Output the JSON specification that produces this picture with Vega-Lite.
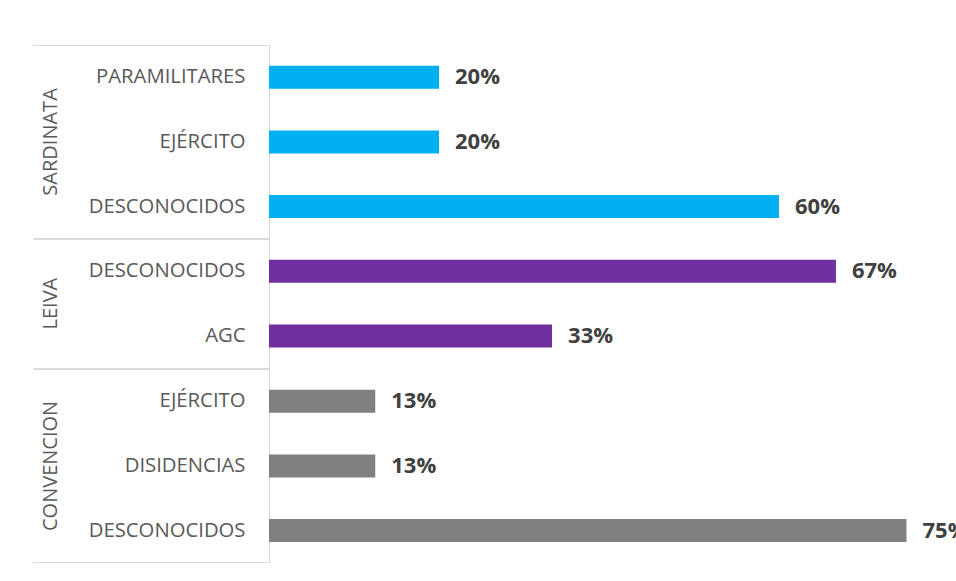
{
  "$schema": "https://vega.github.io/schema/vega-lite/v6.json",
  "background": "white",
  "padding": {"left": 32, "top": 44, "right": 0, "bottom": 20},
  "data": {
    "values": [
      {"muni": "SARDINATA", "actor": "PARAMILITARES", "ord": 1, "pct": 0.2},
      {"muni": "SARDINATA", "actor": "EJÉRCITO", "ord": 2, "pct": 0.2},
      {"muni": "SARDINATA", "actor": "DESCONOCIDOS", "ord": 3, "pct": 0.6},
      {"muni": "LEIVA", "actor": "DESCONOCIDOS", "ord": 4, "pct": 0.667},
      {"muni": "LEIVA", "actor": "AGC", "ord": 5, "pct": 0.333},
      {"muni": "CONVENCION", "actor": "EJÉRCITO", "ord": 6, "pct": 0.125},
      {"muni": "CONVENCION", "actor": "DISIDENCIAS", "ord": 7, "pct": 0.125},
      {"muni": "CONVENCION", "actor": "DESCONOCIDOS", "ord": 8, "pct": 0.75}
    ]
  },
  "facet": {
    "row": {
      "field": "muni",
      "type": "nominal",
      "sort": ["SARDINATA", "LEIVA", "CONVENCION"],
      "title": null,
      "header": {
        "labelAngle": -90,
        "labelFont": "Open Sans",
        "labelFontSize": 20,
        "labelColor": "#595959",
        "labelPadding": 198
      }
    }
  },
  "spacing": 0,
  "bounds": "flush",
  "resolve": {"scale": {"y": "independent"}},
  "spec": {
    "width": 680,
    "height": {"step": 64.625},
    "encoding": {
      "y": {
        "field": "actor",
        "type": "nominal",
        "sort": {"field": "ord", "op": "min"},
        "scale": {"paddingInner": 0, "paddingOuter": 0},
        "axis": {
          "title": null,
          "domainColor": "#d9d9d9",
          "domainWidth": 1,
          "ticks": true,
          "tickSize": 236,
          "tickWidth": 1,
          "bandPosition": 1,
          "tickExtra": true,
          "tickColor": {"condition": {"test": "datum.index === -1 || datum.index === 1", "value": "#d9d9d9"}, "value": "transparent"},
          "labelPadding": -212,
          "labelFont": "Open Sans",
          "labelFontSize": {"condition": {"test": "datum.index === -1", "value": 0}, "value": 20.3},
          "labelColor": "#595959"
        }
      },
      "x": {
        "field": "pct",
        "type": "quantitative",
        "scale": {"domain": [0, 0.8]},
        "axis": null
      }
    },
    "layer": [
      {
        "mark": {"type": "bar", "height": {"band": 0.356}},
        "encoding": {
          "color": {
            "field": "muni",
            "type": "nominal",
            "scale": {"domain": ["SARDINATA", "LEIVA", "CONVENCION"], "range": ["#00B0F0", "#7030A0", "#808080"]},
            "legend": null
          }
        }
      },
      {
        "mark": {"type": "text", "align": "left", "dx": 16, "font": "Open Sans", "fontSize": 22, "fontWeight": "bold", "color": "#404040"},
        "encoding": {
          "text": {"field": "pct", "type": "quantitative", "format": ".0%"}
        }
      }
    ]
  },
  "config": {"view": {"stroke": null}}
}
